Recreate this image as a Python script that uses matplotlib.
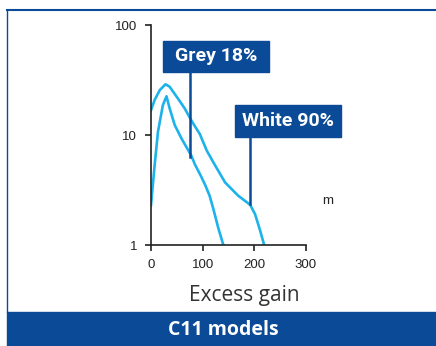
import matplotlib
matplotlib.use("Agg")
import matplotlib.pyplot as plt
from matplotlib.patches import Rectangle
from matplotlib.lines import Line2D

# white 90% target (upper curve)
white_x = [0, 7, 17, 28, 36, 52, 65, 78, 85, 94.5, 108, 124, 143.5, 169, 192, 201.5, 211.5, 219]
white_y = [16.8, 20.8, 25.6, 28.9, 27.5, 21.5, 17.5, 13.6, 12.0, 10.2, 7.2, 5.3, 3.7, 2.8, 2.32, 1.9, 1.34, 1.0]

# grey 18% target (lower curve)
grey_x = [0, 7, 13.5, 23, 30, 36, 46, 59, 78, 85, 97, 105, 113.5, 121, 130, 140]
grey_y = [2.3, 5.3, 10.7, 18.7, 22.5, 17.5, 12.3, 9.3, 6.5, 5.4, 4.2, 3.5, 2.8, 2.1, 1.44, 1.0]

xticks = [0, 100, 200, 300]
yticks = [1, 10, 100]

# label boxes: (text, x0, x1, y0, y1 in data), leader (x, y_end)
labels = [
    ("Grey 18%", 23, 229, 37.4, 71.6, 76, 6.3),
    ("White 90%", 163, 367, 9.6, 18.6, 192, 2.35),
]

cyan = "#1db3ea"
navy = "#0b4a96"
W, H = 436, 346

fig = plt.figure(figsize=(W / 100, H / 100), dpi=100)
ax = fig.add_axes([151 / W, 1 - 245 / H, 155 / W, 220 / H])

ax.plot(white_x, white_y, color=cyan, lw=1.9, solid_joinstyle="round")
ax.plot(grey_x, grey_y, color=cyan, lw=1.9, solid_joinstyle="round")

ax.set_yscale("log")
ax.set_xlim(0, 300)
ax.set_ylim(1, 100)
ax.set_xticks(xticks)
ax.set_xticklabels([str(v) for v in xticks])
ax.set_yticks(yticks)
ax.set_yticklabels([str(v) for v in yticks])
ax.minorticks_off()
for s in ["top", "right"]:
    ax.spines[s].set_visible(False)
for s in ["left", "bottom"]:
    ax.spines[s].set_color("#222222")
    ax.spines[s].set_linewidth(1.2)
ax.tick_params(length=4, width=1.2, color="#222222", labelsize=9.5,
               labelcolor="#222222", pad=6)
for t in ax.get_xticklabels() + ax.get_yticklabels():
    t.set_family("Liberation Sans")

for txt, x0, x1, y0, y1, lx, ly in labels:
    ax.add_patch(Rectangle((x0, y0), x1 - x0, y1 - y0, color=navy,
                           clip_on=False, zorder=3))
    ax.plot([lx, lx], [y0, ly], color=navy, lw=1.8, zorder=3, clip_on=False)
    ym = (y0 * y1) ** 0.5
    ax.text((x0 + x1) / 2, ym, txt, color="white", fontsize=14,
            fontweight="bold", family="Roboto", ha="center", va="center",
            zorder=4)

ax.text(1.14, 0.2, "m", transform=ax.transAxes, fontsize=9.5,
        family="Liberation Sans", color="#222222", ha="center", va="center")

fig.text(244 / W, 1 - 295 / H, "Excess gain", fontsize=15, family="Open Sans",
         color="#333333", ha="center", va="center")

# frame and bottom band
fig.add_artist(Line2D([7 / W, 1], [1 - 10 / H] * 2, color=navy, lw=1.5))
fig.add_artist(Line2D([7 / W] * 2, [1 - 10 / H, 1 - 312 / H], color=navy, lw=1.0))
fig.add_artist(Rectangle((7 / W, 0), 1 - 7 / W, 34 / H, color=navy,
                         transform=fig.transFigure))
fig.text(223 / W, 1 - 330 / H, "C11 models", fontsize=14, family="Open Sans",
         fontweight="bold", color="white", ha="center", va="center")

fig.savefig("out.png", dpi=100)
